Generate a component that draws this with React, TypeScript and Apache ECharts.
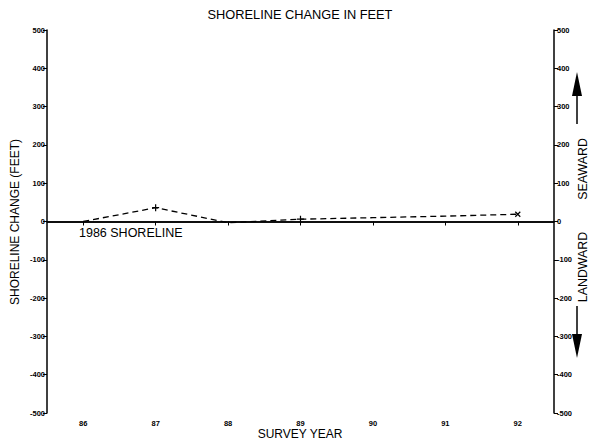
import React, { useEffect, useRef } from "react";
import * as echarts from "echarts";

const years = ["86", "87", "88", "89", "90", "91", "92"];
const changeFeet = [0, 36, -3, 6, 10, 14, 19];
const pointSymbols = ["none", "plus", "none", "plus", "none", "none", "cross"];
const yTicks = { min: -500, max: 500, step: 100 };

const PLUS = "path://M0,5L10,5M5,0L5,10";
const CROSS = "path://M0,0L10,10M10,0L0,10";

export default function App() {
  const ref = useRef<HTMLDivElement>(null);
  useEffect(() => {
    const chart = echarts.init(ref.current!, null, { renderer: "svg" });
    const font = "'Liberation Sans', Arial, sans-serif";
    const tickLabel = { color: "#000", fontSize: 7.5, fontWeight: "bold" as const, fontFamily: font };
    const axisLine = { show: true, lineStyle: { color: "#000", width: 1.5 } };
    const axisTick = { show: true, length: 4, lineStyle: { color: "#000", width: 1 } };
    chart.setOption({
      animation: false,
      backgroundColor: "#fff",
      grid: { left: 47, right: 35, top: 30, bottom: 28 },
      xAxis: {
        type: "category",
        data: years,
        boundaryGap: true,
        axisLine,
        axisTick: { ...axisTick, alignWithLabel: true },
        axisLabel: { ...tickLabel, margin: 6 },
        splitLine: { show: false },
      },
      yAxis: [
        {
          type: "value",
          min: yTicks.min,
          max: yTicks.max,
          interval: yTicks.step,
          position: "left",
          axisLine,
          axisTick,
          axisLabel: { ...tickLabel, margin: 2 },
          splitLine: { show: false },
        },
        {
          type: "value",
          min: yTicks.min,
          max: yTicks.max,
          interval: yTicks.step,
          position: "right",
          axisLine,
          axisTick,
          axisLabel: { ...tickLabel, margin: 3 },
          splitLine: { show: false },
        },
      ],
      series: [
        {
          type: "line",
          data: changeFeet.map((v, i) => ({
            value: v,
            symbol: pointSymbols[i] === "plus" ? PLUS : pointSymbols[i] === "cross" ? CROSS : "none",
            symbolSize: pointSymbols[i] === "cross" ? 5 : 7,
          })),
          showSymbol: true,
          lineStyle: { color: "#000", width: 1.3, type: [6, 4] },
          itemStyle: { color: "transparent", borderColor: "#000", borderWidth: 1.2 },
          markLine: {
            silent: true,
            symbol: "none",
            label: { show: false },
            lineStyle: { color: "#000", width: 1.5, type: "solid" },
            data: [{ yAxis: 0 }],
          },
          z: 3,
        },
      ],
      graphic: [
        {
          type: "text",
          x: 300,
          y: 14,
          style: {
            text: "SHORELINE CHANGE IN FEET",
            font: `12.8px ${font}`,
            fill: "#000",
            align: "center",
            verticalAlign: "middle",
          },
        },
        {
          type: "text",
          x: 300,
          y: 434,
          style: {
            text: "SURVEY YEAR",
            font: `12px ${font}`,
            fill: "#000",
            align: "center",
            verticalAlign: "middle",
          },
        },
        {
          type: "text",
          x: 15,
          y: 222,
          rotation: Math.PI / 2,
          style: {
            text: "SHORELINE CHANGE (FEET)",
            font: `12px ${font}`,
            fill: "#000",
            align: "center",
            verticalAlign: "middle",
          },
        },
        {
          type: "text",
          x: 79,
          y: 233,
          style: {
            text: "1986 SHORELINE",
            font: `12.5px ${font}`,
            fill: "#000",
            align: "left",
            verticalAlign: "middle",
          },
        },
        {
          type: "text",
          x: 583,
          y: 169,
          rotation: Math.PI / 2,
          style: {
            text: "SEAWARD",
            font: `12.4px ${font}`,
            fill: "#000",
            align: "center",
            verticalAlign: "middle",
          },
        },
        {
          type: "text",
          x: 583,
          y: 267,
          rotation: Math.PI / 2,
          style: {
            text: "LANDWARD",
            font: `12.4px ${font}`,
            fill: "#000",
            align: "center",
            verticalAlign: "middle",
          },
        },
        {
          type: "line",
          shape: { x1: 577, y1: 124, x2: 577, y2: 94 },
          style: { stroke: "#000", lineWidth: 1.5 },
        },
        {
          type: "polygon",
          shape: { points: [[577, 72], [572, 96], [582, 96]] },
          style: { fill: "#000" },
        },
        {
          type: "line",
          shape: { x1: 577, y1: 306, x2: 577, y2: 336 },
          style: { stroke: "#000", lineWidth: 1.5 },
        },
        {
          type: "polygon",
          shape: { points: [[577, 358], [572, 334], [582, 334]] },
          style: { fill: "#000" },
        },
      ],
    });
    return () => chart.dispose();
  }, []);
  return (
    <div
      ref={ref}
      style={{ position: "fixed", left: 0, top: 0, width: 589, height: 441, background: "#fff" }}
    />
  );
}
